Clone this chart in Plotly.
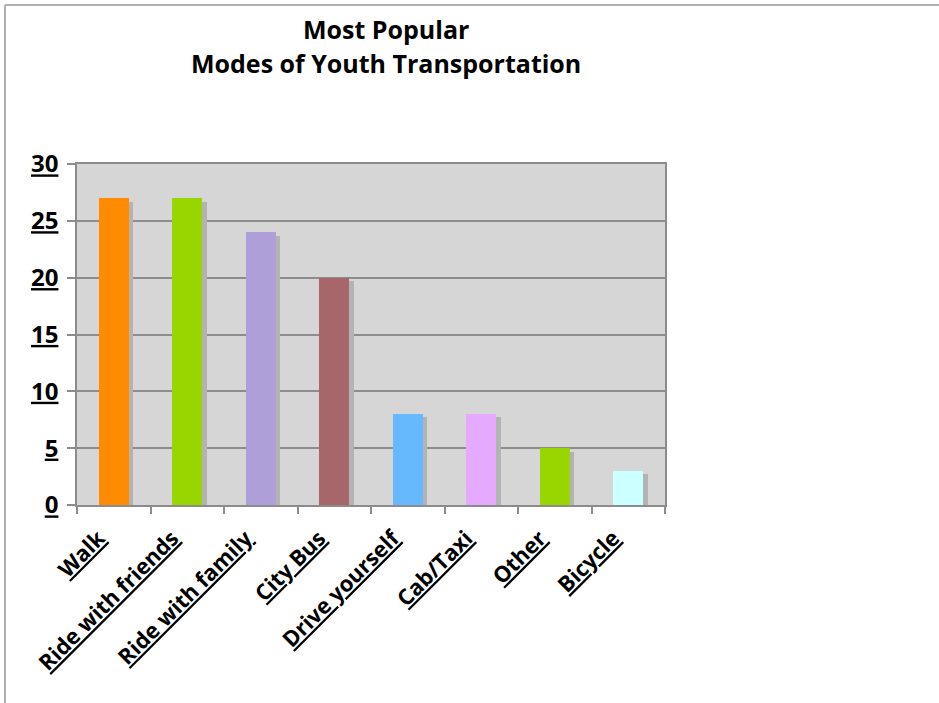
import plotly.graph_objects as go

# Survey results: how young people usually get around
modes = ["Walk", "Ride with friends", "Ride with family", "City Bus",
         "Drive yourself", "Cab/Taxi", "Other", "Bicycle"]
counts = [27, 27, 24, 20, 8, 8, 5, 3]
bar_colors = ["#ff8c00", "#99d600", "#ae9fd8", "#a6666a",
              "#66b8ff", "#e5aaff", "#99d600", "#ccffff"]
y_ticks = [0, 5, 10, 15, 20, 25, 30]
title_lines = ["Most Popular", "Modes of Youth Transportation"]

FONT = "Comic Sans MS, Open Sans, sans-serif"
W, H = 939, 703
L, R, T, B = 77, 274, 164, 198
plot_w, plot_h = W - L - R, H - T - B

fig = go.Figure()

# drop shadow behind each bar, nudged right and slightly lower
fig.add_trace(go.Bar(
    x=modes, y=[c - 0.3 for c in counts],
    width=0.41, offset=-0.205 + 0.06,
    marker=dict(color="#b3b3b3", line=dict(width=0)),
    hoverinfo="skip", showlegend=False,
))
fig.add_trace(go.Bar(
    x=modes, y=counts,
    width=0.41, offset=-0.205,
    marker=dict(color=bar_colors, line=dict(width=0)),
    showlegend=False,
))

# pixel -> paper coordinate helpers
px = lambda v: (v - L) / plot_w
py = lambda v: (H - B - v) / plot_h

# thin frame along the top and left of the page
frame = dict(color="#b0b0b0", width=2)
fig.add_shape(type="line", xref="paper", yref="paper", x0=px(5), x1=px(W + 5),
              y0=py(5), y1=py(5), line=frame, layer="above")
fig.add_shape(type="line", xref="paper", yref="paper", x0=px(5), x1=px(5),
              y0=py(5), y1=py(H + 5), line=frame, layer="above")

# two-line title
for line, ypix in zip(title_lines, [29, 63]):
    fig.add_annotation(
        text=f"<b>{line}</b>", xref="paper", yref="paper",
        x=px(386), y=py(ypix), xanchor="center", yanchor="middle",
        showarrow=False,
        font=dict(family=FONT, size=25, color="black"),
    )

fig.update_layout(
    width=W, height=H,
    margin=dict(l=L, r=R, t=T, b=B),
    paper_bgcolor="white",
    plot_bgcolor="#d6d6d6",
    barmode="overlay",
    bargap=0,
    xaxis=dict(
        type="category",
        tickangle=-45,
        tickson="boundaries",
        ticks="outside", ticklen=7, tickcolor="#8c8c8c", tickwidth=1.5,
        ticklabelstandoff=10,
        ticklabelshift=-15,
        tickfont=dict(family=FONT, size=22, color="black", weight="bold",
                      lineposition="under"),
        showline=True, linecolor="#8c8c8c", linewidth=1.5, mirror=True,
        showgrid=False,
    ),
    yaxis=dict(
        range=[0, 30],
        tickvals=y_ticks,
        ticks="outside", ticklen=8, tickcolor="#8c8c8c", tickwidth=1.5,
        ticklabelstandoff=4,
        tickfont=dict(family=FONT, size=24, color="black", weight="bold",
                      lineposition="under"),
        showline=True, linecolor="#8c8c8c", linewidth=1.5, mirror=True,
        showgrid=True, gridcolor="#8c8c8c", gridwidth=1.5,
        zeroline=False,
    ),
)

fig.write_html("out.html")
